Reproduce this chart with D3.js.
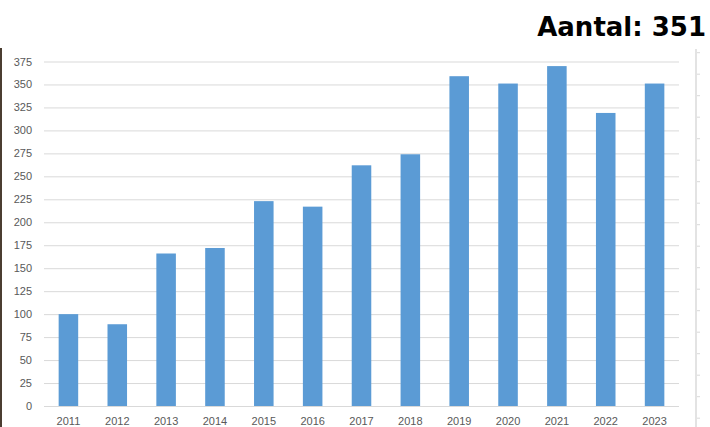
<!DOCTYPE html>
<html><head><meta charset="utf-8">
<script src="https://cdn.jsdelivr.net/npm/d3@7"></script>
<style>html,body{margin:0;padding:0;background:#fff;overflow:hidden}</style>
</head><body>
<svg id="c" width="710" height="427"></svg>
<script>
const years = ["2011","2012","2013","2014","2015","2016","2017","2018","2019","2020","2021","2022","2023"];
const counts = [100, 89, 166, 172, 223, 217, 262, 274, 359, 351, 370, 319, 351];
const yTicks = [0,25,50,75,100,125,150,175,200,225,250,275,300,325,350,375];
const titleText = "Aantal: 351";

const svg = d3.select("#c");
const L = 44, R = 679, T = 61.5, B = 406;
const x = d3.scaleBand().domain(years).range([L, R]).paddingInner(0.6).paddingOuter(0.3);
const y = d3.scaleLinear().domain([0, 375]).range([B, T]);

// left dark border
svg.append("rect").attr("x",0).attr("y",48).attr("width",2).attr("height",379).attr("fill","#4b3d31");
// right secondary axis line
svg.append("line").attr("x1",696).attr("x2",696).attr("y1",49).attr("y2",427).attr("stroke","#e3e3e3").attr("stroke-width",2);
const rt = d3.range(52.7, 427, 21.5);
svg.selectAll(".rt").data(rt).enter().append("line")
  .attr("x1",697).attr("x2",700).attr("y1",d=>d).attr("y2",d=>d).attr("stroke","#d9d9d9");

// gridlines + y axis labels
const yAxis = d3.axisLeft(y).tickValues(yTicks).tickSize(-(R-L)).tickPadding(12);
const gy = svg.append("g").attr("transform",`translate(${L},0)`).call(yAxis);
gy.select(".domain").remove();
gy.selectAll(".tick line").attr("stroke","#d9d9d9").attr("stroke-width",1);
gy.selectAll(".tick text").attr("fill","#595959").attr("font-family","'Liberation Sans', Arial, sans-serif").attr("font-size","11px");

// bars
svg.selectAll(".bar").data(counts).enter().append("rect")
  .attr("x",(d,i)=>x(years[i])).attr("width",x.bandwidth())
  .attr("y",d=>y(d)).attr("height",d=>B-y(d))
  .attr("fill","#5b9bd5");

// x axis
const xAxis = d3.axisBottom(x).tickSize(0).tickPadding(11);
const gx = svg.append("g").attr("transform",`translate(0,${B})`).call(xAxis);
gx.select(".domain").remove();
gx.selectAll(".tick text").attr("fill","#595959").attr("font-family","'Liberation Sans', Arial, sans-serif").attr("font-size","11px");

// title
svg.append("text").attr("x",706).attr("y",36).attr("text-anchor","end")
  .attr("font-family","'DejaVu Sans', Verdana, sans-serif").attr("font-weight","bold")
  .attr("font-size","26px").attr("fill","#000").text(titleText);
</script>
</body></html>
